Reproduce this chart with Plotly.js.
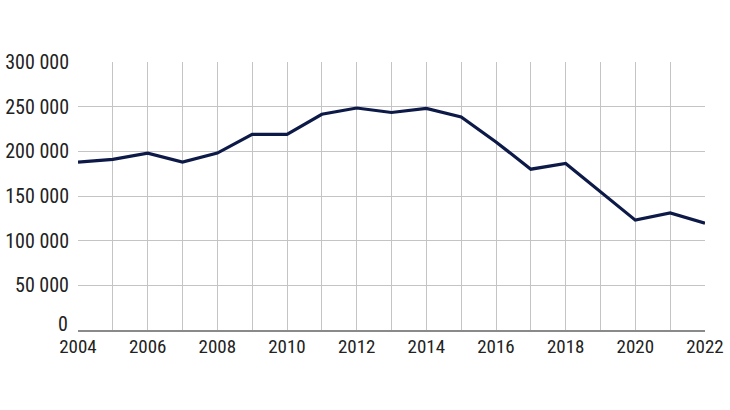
<!DOCTYPE html>
<html>
<head>
<meta charset="utf-8">
<script src="https://cdn.plot.ly/plotly-3.0.1.min.js"></script>
<style>html,body{margin:0;padding:0;background:#fff;}#chart{width:730px;height:410px;}</style>
</head>
<body>
<div id="chart"></div>
<script>
const years = [2004,2005,2006,2007,2008,2009,2010,2011,2012,2013,2014,2015,2016,2017,2018,2019,2020,2021,2022];
const values = [188000,191000,198000,188000,198000,219000,219000,241500,248500,243500,248000,238500,210500,180000,186500,155000,123000,131000,119500];
const yTicks = [0,50000,100000,150000,200000,250000,300000];
const xTicks = [2004,2006,2008,2010,2012,2014,2016,2018,2020,2022];

const fontFam = '"Liberation Sans Narrow", "Roboto Condensed", "Liberation Sans", sans-serif';
const fmt = v => String(v).replace(/\B(?=(\d{3})+(?!\d))/g, ' ');

Plotly.newPlot('chart', [{
  x: years, y: values, type: 'scatter', mode: 'lines',
  line: {color: '#0d1a48', width: 3.2},
  hoverinfo: 'skip'
}], {
  width: 730, height: 410,
  margin: {l: 78, r: 25, t: 62, b: 80},
  paper_bgcolor: '#fff', plot_bgcolor: '#fff',
  showlegend: false,
  font: {family: fontFam, size: 20, color: '#222'},
  xaxis: {
    range: [2004, 2022], tickmode: 'array', tickvals: xTicks, ticktext: xTicks.map(String),
    tickfont: {size: 19},
    showgrid: false, zeroline: false, showline: true, linecolor: '#8a8a8a', linewidth: 1.5,
    ticks: '', ticklabelstandoff: -1,
    minor: {tickmode: 'array', tickvals: years.slice(1, -1), showgrid: true, gridcolor: '#c4c4c4', gridwidth: 1, ticks: ''}
  },
  yaxis: {
    range: [0, 300000], tickmode: 'array', tickvals: yTicks,
    ticktext: yTicks.map(v => v === 0 ? '' : fmt(v)),
    showgrid: true, gridcolor: '#c4c4c4', gridwidth: 1, zeroline: false, showline: false,
    ticks: '', ticklabelstandoff: 8
  },
  annotations: [{
    xref: 'paper', yref: 'y', x: 0, y: yTicks[0], xanchor: 'right', yanchor: 'middle',
    xshift: -8, yshift: 6, text: fmt(yTicks[0]), showarrow: false,
    font: {family: fontFam, size: 20, color: '#222'}
  }]
}, {staticPlot: true, displayModeBar: false});
</script>
</body>
</html>
